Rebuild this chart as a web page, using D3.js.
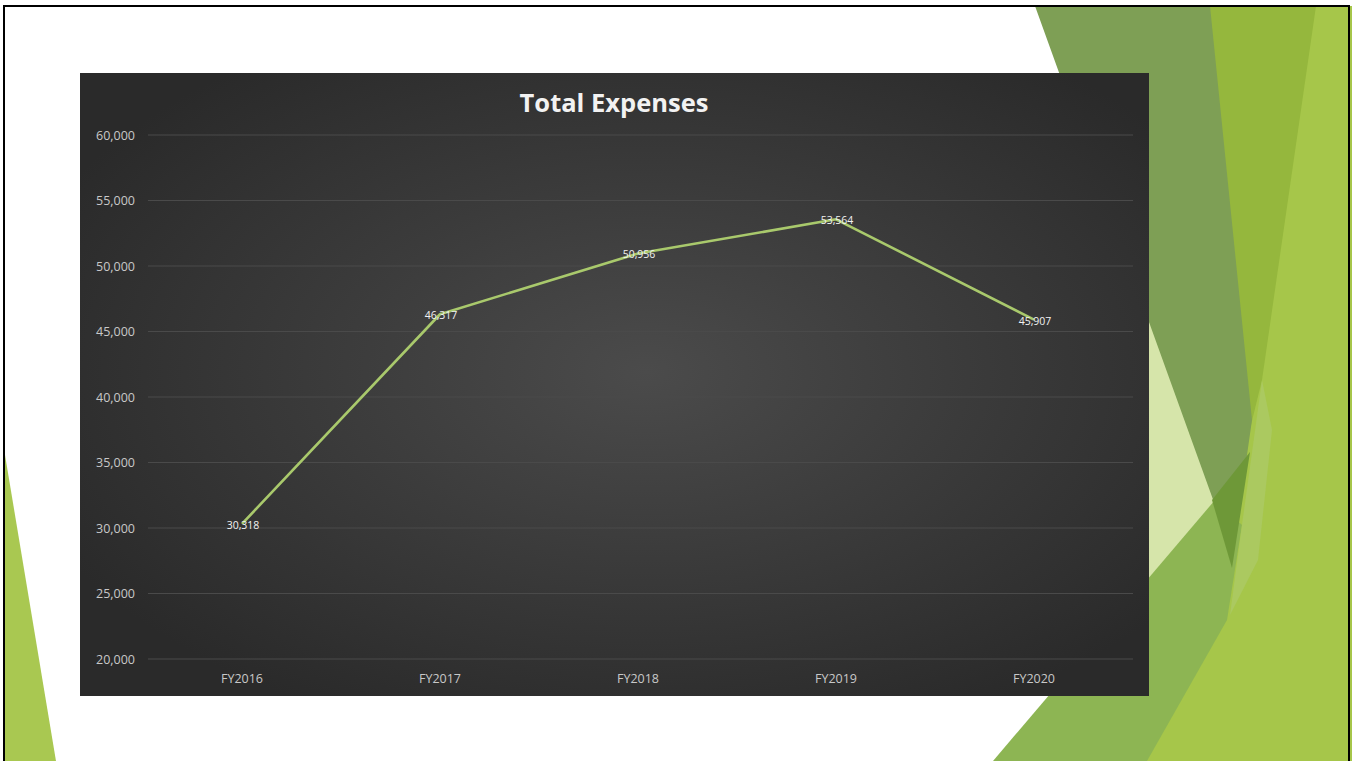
<!DOCTYPE html>
<html>
<head>
<meta charset="utf-8">
<script src="https://cdn.jsdelivr.net/npm/d3@7"></script>
<style>
  html, body { margin: 0; padding: 0; background: #ffffff; }
  svg { display: block; }
</style>
</head>
<body>
<svg id="chart" width="1352" height="761"></svg>
<script>
const title = "Total Expenses";
const categories = ["FY2016", "FY2017", "FY2018", "FY2019", "FY2020"];
const expenses = [30318, 46317, 50956, 53564, 45907];
const valueLabels = ["30,318", "46,317", "50,956", "53,564", "45,907"];
const yTicks = [20000, 25000, 30000, 35000, 40000, 45000, 50000, 55000, 60000];

const svg = d3.select("#chart");

// Decorative slide background (Facet-like green facets)
const deco = [
  { fill: "#a6c64a", pts: [[1200,6],[1352,6],[1352,761],[1140,761],[1160,420]] },
  { fill: "#95b73d", pts: [[1205,6],[1316,6],[1262,380],[1240,470]] },
  { fill: "#d6e5aa", pts: [[1140,290],[1218,505],[1140,592]] },
  { fill: "#7e9f55", pts: [[1035,6],[1210,6],[1252,420],[1232,560],[1215,505]] },
  { fill: "#8db553", pts: [[993,761],[1215,500],[1242,525],[1227,620],[1147,761]] },
  { fill: "#abc960", pts: [[1262,380],[1242,525],[1230,615],[1258,560],[1272,430]] },
  { fill: "#6e9838", pts: [[1212,500],[1250,452],[1232,568]] },
  { fill: "#a9c851", pts: [[5,455],[5,761],[56,761]] }
];
svg.append("g").selectAll("polygon").data(deco).join("polygon")
  .attr("points", d => d.pts.map(p => p.join(",")).join(" "))
  .attr("fill", d => d.fill);

// Chart panel
const panel = { x: 80, y: 73, w: 1069, h: 623 };
const defs = svg.append("defs");
const rg = defs.append("radialGradient").attr("id", "bg")
  .attr("cx", "0.53").attr("cy", "0.48").attr("r", "0.62");
rg.append("stop").attr("offset", "0").attr("stop-color", "#4b4b4b");
rg.append("stop").attr("offset", "1").attr("stop-color", "#2a2a2a");
svg.append("rect").attr("x", panel.x).attr("y", panel.y)
  .attr("width", panel.w).attr("height", panel.h).attr("fill", "url(#bg)");

// Scales
const x = d3.scaleBand().domain(categories).range([143, 1133]);
const y = d3.scaleLinear().domain([20000, 60000]).range([659, 135]);

// Gridlines
svg.append("g").selectAll("line").data(yTicks).join("line")
  .attr("x1", 148).attr("x2", 1133)
  .attr("y1", d => y(d)).attr("y2", d => y(d))
  .attr("stroke", "#4a4a4a").attr("stroke-width", 1);

// Y axis
const yAxis = svg.append("g").attr("transform", "translate(135,0)")
  .call(d3.axisLeft(y).tickValues(yTicks).tickSize(0).tickPadding(0)
    .tickFormat(d3.format(",")));
yAxis.select(".domain").remove();
yAxis.selectAll("text").attr("fill", "#c8c8c8")
  .attr("font-family", "'Open Sans', sans-serif").attr("font-size", 12.5);

// X axis
const xAxis = svg.append("g").attr("transform", "translate(0,674)")
  .call(d3.axisBottom(x).tickSize(0).tickPadding(0));
xAxis.select(".domain").remove();
xAxis.selectAll("text").attr("fill", "#c8c8c8")
  .attr("font-family", "'Open Sans', sans-serif").attr("font-size", 12.5);

// Line
const line = d3.line()
  .x((d, i) => x(categories[i]) + x.bandwidth() / 2)
  .y(d => y(d));
svg.append("path").datum(expenses)
  .attr("d", line).attr("fill", "none")
  .attr("stroke", "#a9c96c").attr("stroke-width", 2.6)
  .attr("stroke-linejoin", "round");

// Data labels
svg.append("g").selectAll("text").data(expenses).join("text")
  .attr("x", (d, i) => x(categories[i]) + x.bandwidth() / 2 + 1)
  .attr("y", d => y(d) + 5)
  .attr("text-anchor", "middle")
  .attr("fill", "#f2f2f2")
  .attr("font-family", "'Open Sans', sans-serif").attr("font-size", 10.5)
  .text((d, i) => valueLabels[i]);

// Title
svg.append("text").attr("x", 614).attr("y", 112)
  .attr("text-anchor", "middle").attr("fill", "#f2f2f2")
  .attr("font-family", "'Open Sans', sans-serif").attr("font-weight", "bold")
  .attr("font-size", 25.5).text(title);

// Outer frame
svg.append("rect").attr("x", 4).attr("y", 6).attr("width", 1345).attr("height", 760)
  .attr("fill", "none").attr("stroke", "#000").attr("stroke-width", 2);
</script>
</body>
</html>
